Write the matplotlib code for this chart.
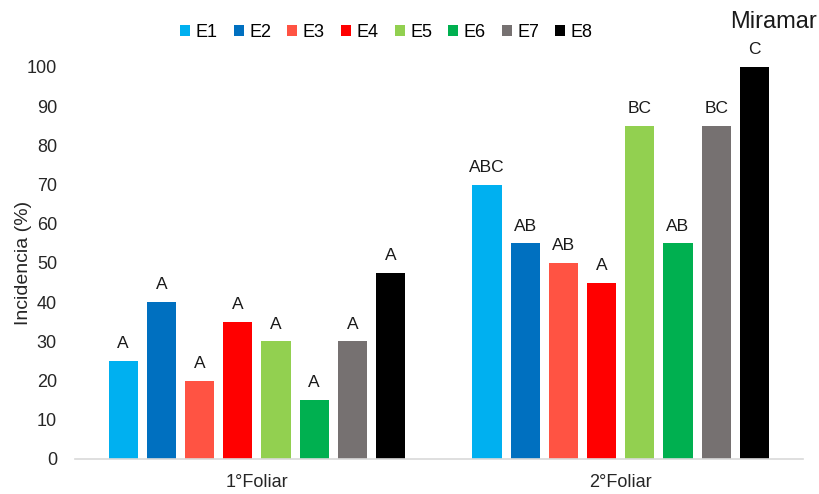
import numpy as np
import matplotlib.pyplot as plt

plt.rcParams['font.family'] = ['Liberation Sans', 'DejaVu Sans']

# data
groups = ['1°Foliar', '2°Foliar']
series = ['E1', 'E2', 'E3', 'E4', 'E5', 'E6', 'E7', 'E8']
foliar1 = [25, 40, 20, 35, 30, 15, 30, 47.5]
foliar2 = [70, 55, 50, 45, 85, 55, 85, 100]
letters1 = ['A', 'A', 'A', 'A', 'A', 'A', 'A', 'A']
letters2 = ['ABC', 'AB', 'AB', 'A', 'BC', 'AB', 'BC', 'C']
colors = ['#00B0F0', '#0070C0', '#FF5343', '#FF0000', '#92D050', '#00B050', '#767171', '#000000']

fig = plt.figure(figsize=(8.19, 4.94), dpi=100)
ax = fig.add_axes([0.0916, 0.0709, 0.8884, 0.7935])

x = np.arange(len(groups))
slot = 0.105
width = 0.08
for i, name in enumerate(series):
    vals = [foliar1[i], foliar2[i]]
    labs = [letters1[i], letters2[i]]
    pos = x + (i - 3.5) * slot
    ax.bar(pos, vals, width=width, color=colors[i], label=name, zorder=2)
    for p, v, t in zip(pos, vals, labs):
        ax.text(p, v + 2.5, t, ha='center', va='bottom', fontsize=12.5,
                color='#1a1a1a', clip_on=False)

ax.text(1 + 3.5 * slot + 0.053, 110, 'Miramar', ha='center', va='baseline',
        fontsize=17, color='#1a1a1a', clip_on=False)

ax.set_xlim(-0.5, 1.5)
ax.set_ylim(0, 100)
ax.set_yticks(range(0, 101, 10))
ax.set_xticks(x)
ax.set_xticklabels(groups, fontsize=13, color='#262626')
ax.tick_params(axis='y', length=0, pad=13, labelsize=13, labelcolor='#262626')
ax.tick_params(axis='x', length=0, pad=11)
ax.set_ylabel('Incidencia (%)', fontsize=14, color='#262626')
ax.yaxis.set_label_coords(-0.059, 0.5)

for s in ['top', 'right', 'left']:
    ax.spines[s].set_visible(False)
ax.spines['bottom'].set_color('#D9D9D9')
ax.spines['bottom'].set_linewidth(1.2)

leg = fig.legend(loc='center', bbox_to_anchor=(0.472, 0.935), ncol=8, frameon=False,
                 fontsize=13, handlelength=0.55, handleheight=0.55,
                 handletextpad=0.3, columnspacing=0.9)

fig.savefig('out.png', dpi=100)
